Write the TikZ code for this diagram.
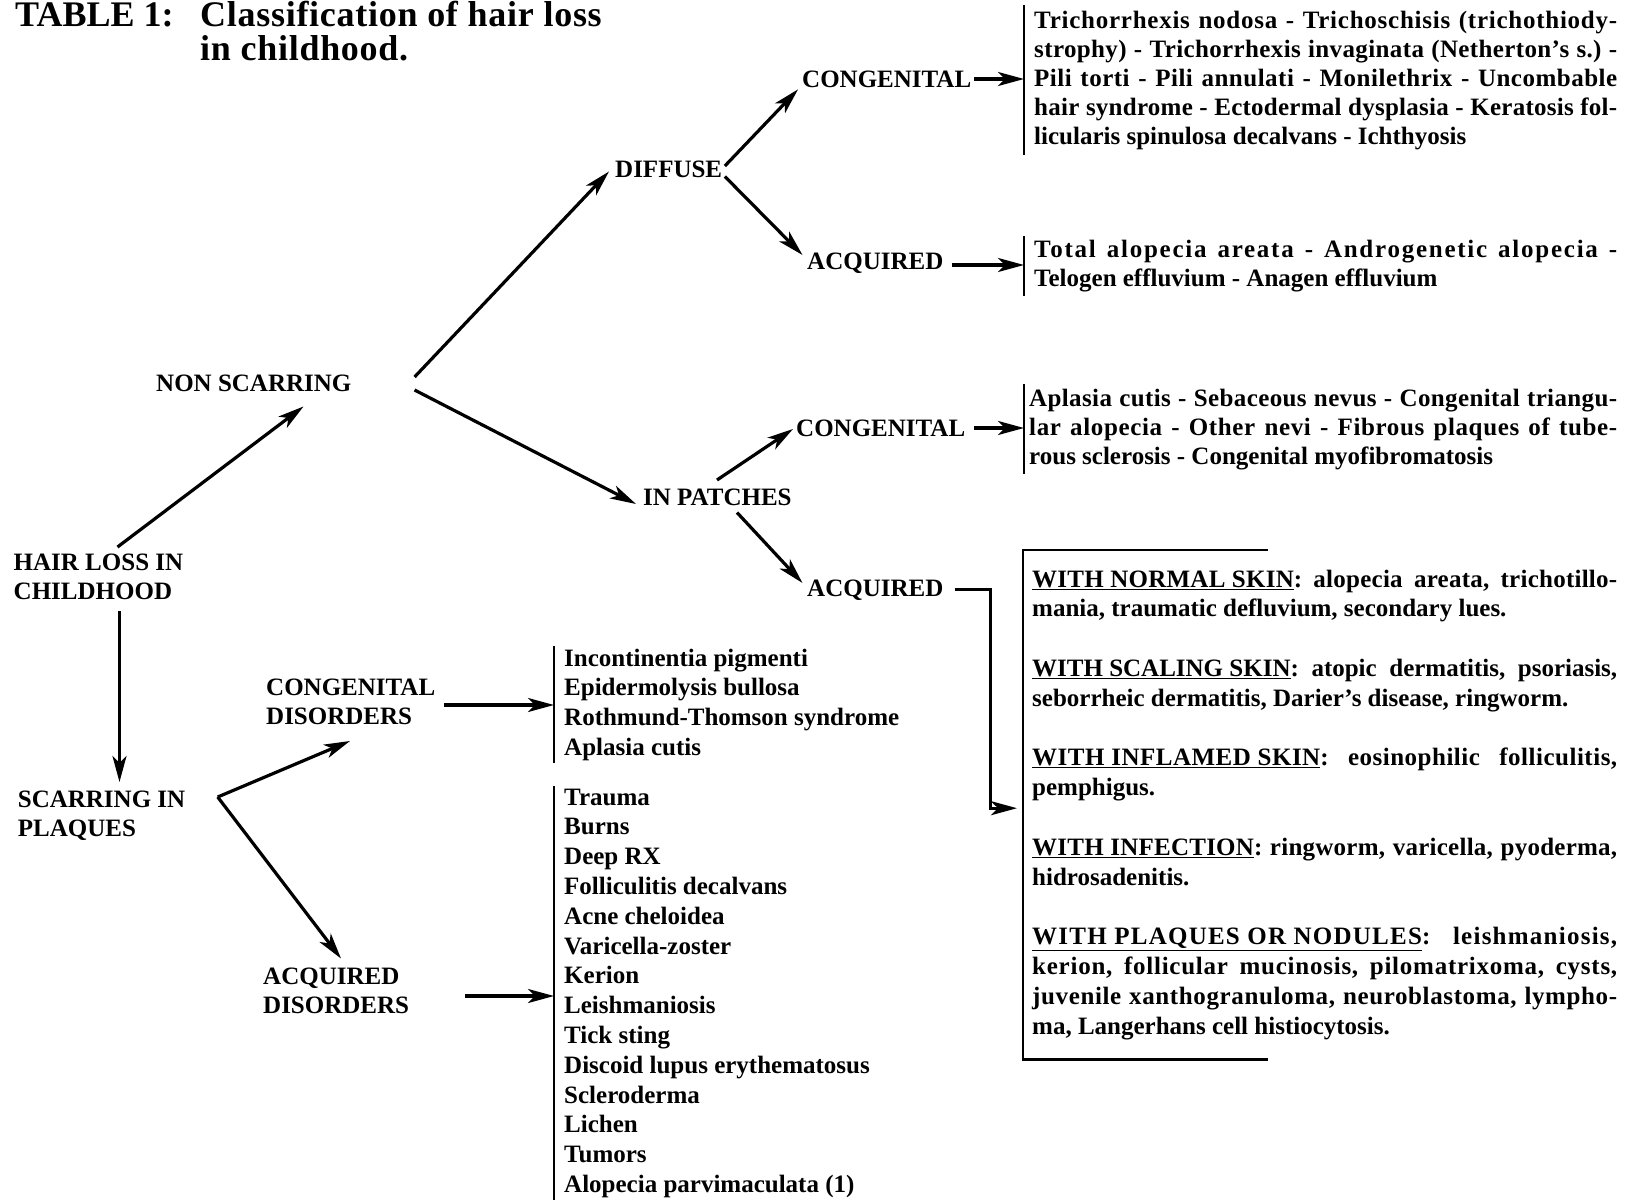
\documentclass[tikz,border=0pt]{standalone}
\usepackage{fontspec}
\setmainfont{Liberation Serif}
\usetikzlibrary{arrows.meta}

\newcommand\bodyfont{\fontsize{25}{29.8}\selectfont\bfseries\frenchspacing}
\newcommand\parfont{\fontsize{25}{29}\selectfont\bfseries\frenchspacing}
\newcommand\titlefont{\fontsize{36}{34}\selectfont\bfseries}
\newcommand\stack[1]{\vtop{\halign{##\hfil\cr #1\crcr}}}
\newcommand\jl[2][0]{\makebox[\linewidth][s]{\addfontfeature{LetterSpace=#1}#2}}
\newcommand\hd[1]{\underline{#1}}

\begin{document}
\begin{tikzpicture}[x=1pt, y=-1pt,
    lbl/.style={anchor=base west, inner sep=0pt, font=\bodyfont},
    lst/.style={anchor=base west, inner xsep=10pt, inner ysep=2pt, font=\bodyfont},
    arr/.style={-{Stealth[length=26pt,width=14pt,inset=7pt]}, line width=3.2pt},
    bar/.style={line width=2.8pt}]
\useasboundingbox (0,0) rectangle (1630,1200);
% Nodes
\node[lbl, font=\titlefont] (tab) at (15,26) {TABLE 1:};
\node[lbl, font=\titlefont] (ttl) at (200,26) {\addfontfeature{LetterSpace=2}\stack{Classification of hair loss\cr in childhood.}};
\node[lbl] (hl) at (13.5,570) {\stack{HAIR LOSS IN\cr CHILDHOOD}};
\node[lbl] (ns) at (156,391.5) {NON SCARRING};
\node[lbl] (sc) at (17.7,807) {\stack{SCARRING IN\cr PLAQUES}};
\node[lbl] (df) at (615,177.5) {DIFFUSE};
\node[lbl] (ip) at (643,505) {IN PATCHES};
\node[lbl] (c1) at (802,87) {CONGENITAL};
\node[lbl] (a1) at (807,269) {ACQUIRED};
\node[lbl] (c2) at (796,436) {CONGENITAL};
\node[lbl] (a2) at (807,596) {ACQUIRED};
\node[lbl] (cd) at (266,695) {\stack{CONGENITAL\cr DISORDERS}};
\node[lbl] (ad) at (263,984) {\stack{ACQUIRED\cr DISORDERS}};
% Lists
\node[lst] (l1) at (554,666) {\stack{Incontinentia pigmenti\cr Epidermolysis bullosa\cr
  Rothmund-Thomson syndrome\cr Aplasia cutis}};
\node[lst] (l2) at (554,805) {\stack{Trauma\cr Burns\cr Deep RX\cr Folliculitis decalvans\cr
  Acne cheloidea\cr Varicella-zoster\cr Kerion\cr Leishmaniosis\cr Tick sting\cr
  Discoid lupus erythematosus\cr Scleroderma\cr Lichen\cr Tumors\cr Alopecia parvimaculata (1)}};
\node[lst, font=\parfont, inner ysep=5.5pt] (p1) at (1024,28) {\parbox[t]{583pt}{%
  \jl[3]{Trichorrhexis nodosa - Trichoschisis (trichothiody-}\\
  \jl[1.5]{strophy) - Trichorrhexis invaginata (Netherton’s s.) -}\\
  \jl[2]{Pili torti - Pili annulati - Monilethrix - Uncombable}\\
  \jl[1]{hair syndrome - Ectodermal dysplasia - Keratosis fol-}\\
  licularis spinulosa decalvans - Ichthyosis}};
\node[lst, font=\parfont, inner ysep=3.5pt] (p2) at (1024,257.5) {\parbox[t]{583pt}{%
  \jl[7]{Total alopecia areata - Androgenetic alopecia -}\\
  Telogen effluvium - Anagen effluvium}};
\node[lst, font=\parfont, inner xsep=5pt, inner ysep=4pt] (p3) at (1024,406) {\parbox[t]{588pt}{%
  \jl[1.5]{Aplasia cutis - Sebaceous nevus - Congenital triangu-}\\
  \jl[2.5]{lar alopecia - Other nevi - Fibrous plaques of tube-}\\
  rous sclerosis - Congenital myofibromatosis}};
\node[lst, inner xsep=9pt, inner ysep=19.5pt] (bx) at (1023,587) {\parbox[t]{585pt}{%
  \jl[1]{\hd{WITH NORMAL SKIN}: alopecia areata, trichotillo-}\\
  mania, traumatic defluvium, secondary lues.\\[29.8pt]
  \jl{\hd{WITH SCALING SKIN}: atopic dermatitis, psoriasis,}\\
  seborrheic dermatitis, Darier’s disease, ringworm.\\[29.8pt]
  \jl[2]{\hd{WITH INFLAMED SKIN}: eosinophilic folliculitis,}\\
  pemphigus.\\[29.8pt]
  \jl[1]{\hd{WITH INFECTION}: ringworm, varicella, pyoderma,}\\
  hidrosadenitis.\\[29.8pt]
  \jl[5]{\hd{WITH PLAQUES OR NODULES}: leishmaniosis,}\\
  \jl[3]{kerion, follicular mucinosis, pilomatrixoma, cysts,}\\
  \jl[2.5]{juvenile xanthogranuloma, neuroblastoma, lympho-}\\
  ma, Langerhans cell histiocytosis.}};
% Bars
\draw[bar] (p1.north west) -- (p1.south west);
\draw[bar] (p2.north west) -- (p2.south west);
\draw[bar] (p3.north west) -- (p3.south west);
\draw[bar] (l1.north west) -- (l1.south west);
\draw[bar] (l2.north west) -- (l2.south west);
\draw[bar] ([xshift=245pt]bx.north west) -- (bx.north west) -- (bx.south west) -- ([xshift=245pt]bx.south west);
% Edges
\draw[arr] ([xshift=104pt,yshift=23pt]hl.base west) -- ([xshift=147.5pt,yshift=-15pt]ns.base west);
\draw[arr] ([xshift=106pt,yshift=-41pt]hl.base west) -- ([xshift=101.8pt,yshift=25pt]sc.base west);
\draw[arr] ([xshift=63pt,yshift=14.5pt]ns.base east) -- ([xshift=-6pt,yshift=6pt]df.base west);
\draw[arr] ([xshift=63pt,yshift=1.5pt]ns.base east) -- ([xshift=-7pt,yshift=1pt]ip.base west);
\draw[arr] ([xshift=2.5pt,yshift=11.5pt]df.base east) -- ([xshift=-4pt,yshift=-2.4pt]c1.base west);
\draw[arr] ([xshift=2.5pt,yshift=1pt]df.base east) -- ([xshift=-4.5pt,yshift=14pt]a1.base west);
\draw[arr] ([xshift=74pt,yshift=25pt]ip.base west) -- ([xshift=-3pt,yshift=7pt]c2.base west);
\draw[arr] ([xshift=94pt,yshift=-7.5pt]ip.base west) -- ([xshift=-4.5pt,yshift=13pt]a2.base west);
\coordinate (c1o) at ([xshift=3pt,yshift=8pt]c1.base east);
\draw[arr] (c1o) -- (c1o -| p1.west);
\coordinate (a1o) at ([xshift=8pt,yshift=4pt]a1.base east);
\draw[arr] (a1o) -- (a1o -| p2.west);
\coordinate (c2o) at ([xshift=9pt,yshift=8pt]c2.base east);
\draw[arr] (c2o) -- (c2o -| p3.west);
\coordinate (a2o) at ([xshift=11pt,yshift=6.6pt]a2.base east);
\draw[arr] (a2o) -- ++(35.6,0) |- ([xshift=-6pt,yshift=-3.6pt]bx.west);
\draw[arr] ([xshift=200pt,yshift=10pt]sc.base west) -- ([xshift=84pt,yshift=-46pt]cd.base west);
\draw[arr] ([xshift=200pt,yshift=10pt]sc.base west) -- ([xshift=78pt,yshift=25.5pt]ad.base west);
\coordinate (cdo) at ([xshift=178pt,yshift=-10pt]cd.base west);
\draw[arr] (cdo) -- (cdo -| l1.west);
\coordinate (ado) at ([xshift=202pt,yshift=-12pt]ad.base west);
\draw[arr] (ado) -- (ado -| l2.west);
\end{tikzpicture}
\end{document}
